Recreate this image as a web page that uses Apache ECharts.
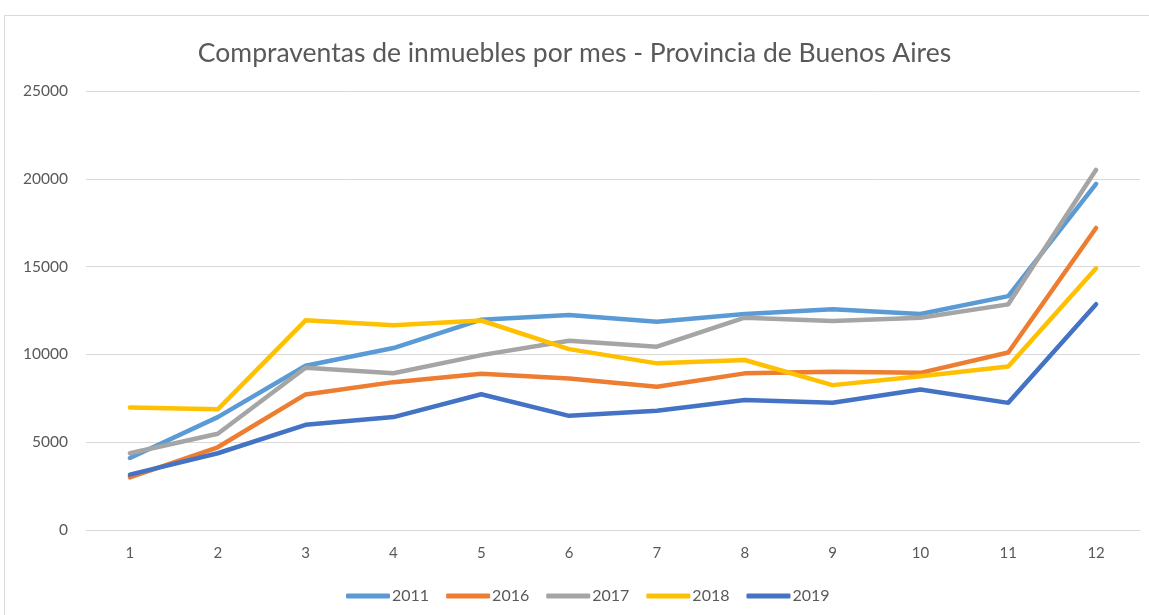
<!DOCTYPE html>
<html>
<head>
<meta charset="utf-8">
<script src="https://cdn.jsdelivr.net/npm/echarts@6/dist/echarts.min.js"></script>
<style>
  html, body { margin: 0; padding: 0; background: #fff; }
  #chart { width: 1149px; height: 615px; }
</style>
</head>
<body>
<div id="chart"></div>
<script>
// datos
const months = ['1', '2', '3', '4', '5', '6', '7', '8', '9', '10', '11', '12']
const years = ['2011', '2016', '2017', '2018', '2019']
const colors = ['#5B9BD5', '#ED7D31', '#A5A5A5', '#FFC000', '#4472C4']

const v2011 = [4100, 6430, 9350, 10360, 11980, 12240, 11860, 12300, 12570, 12300, 13320, 19710]
const v2016 = [3000, 4710, 7720, 8420, 8900, 8630, 8160, 8920, 9010, 8950, 10110, 17200]
const v2017 = [4370, 5480, 9240, 8930, 9960, 10780, 10440, 12090, 11900, 12090, 12850, 20510]
const v2018 = [6980, 6870, 11940, 11660, 11930, 10300, 9490, 9680, 8250, 8760, 9310, 14900]
const v2019 = [3150, 4370, 5990, 6430, 7730, 6500, 6790, 7400, 7250, 8000, 7240, 12860]

const values = [v2011, v2016, v2017, v2018, v2019]
const textColor = '#595959'
const gridColor = '#D9D9D9'

function initSeries(name, data, color) {
  return {
    name,
    data,
    type: 'line',
    symbol: 'none',
    showSymbol: false,
    lineStyle: {
      color,
      width: 4.5,
      cap: 'round',
      join: 'round'
    },
    itemStyle: {
      color
    }
  }
}

const chart = echarts.init(document.getElementById('chart'))

const series = years.map((y, i) => initSeries(y, values[i], colors[i]))

const option = {
  animation: false,
  color: colors,
  title: {
    text: 'Compraventas de inmuebles por mes - Provincia de Buenos Aires',
    left: 'center',
    top: 35,
    textStyle: {
      fontFamily: 'Lato',
      fontWeight: 'normal',
      fontSize: 26.5,
      color: textColor
    }
  },
  // marco del grafico
  graphic: [{
    type: 'rect',
    shape: { x: 4.5, y: 15.5, width: 1300, height: 800 },
    style: { fill: 'none', stroke: gridColor, lineWidth: 1 },
    silent: true
  }],
  grid: {
    top: 91,
    left: 86,
    right: 9,
    bottom: 85
  },
  legend: {
    data: years,
    bottom: 6,
    left: 341,
    icon: 'roundRect',
    itemWidth: 44,
    itemHeight: 5,
    itemGap: 17,
    textStyle: {
      fontFamily: 'Lato',
      fontSize: 16,
      color: textColor,
      padding: [0, 0, 0, -3]
    }
  },
  xAxis: [{
    type: 'category',
    data: months,
    boundaryGap: true,
    axisTick: { show: false },
    axisLine: {
      lineStyle: { color: gridColor, width: 1 }
    },
    axisLabel: {
      margin: 16,
      fontFamily: 'Lato',
      fontSize: 15,
      color: textColor
    }
  }],
  yAxis: [{
    type: 'value',
    min: 0,
    max: 25000,
    interval: 5000,
    axisTick: { show: false },
    axisLine: { show: false },
    axisLabel: {
      margin: 18,
      fontFamily: 'Lato',
      fontSize: 15.5,
      color: textColor,
      formatter: v => String(v)
    },
    splitLine: {
      lineStyle: { color: gridColor, width: 1 }
    }
  }],
  series
}

chart.setOption(option)
</script>
</body>
</html>
